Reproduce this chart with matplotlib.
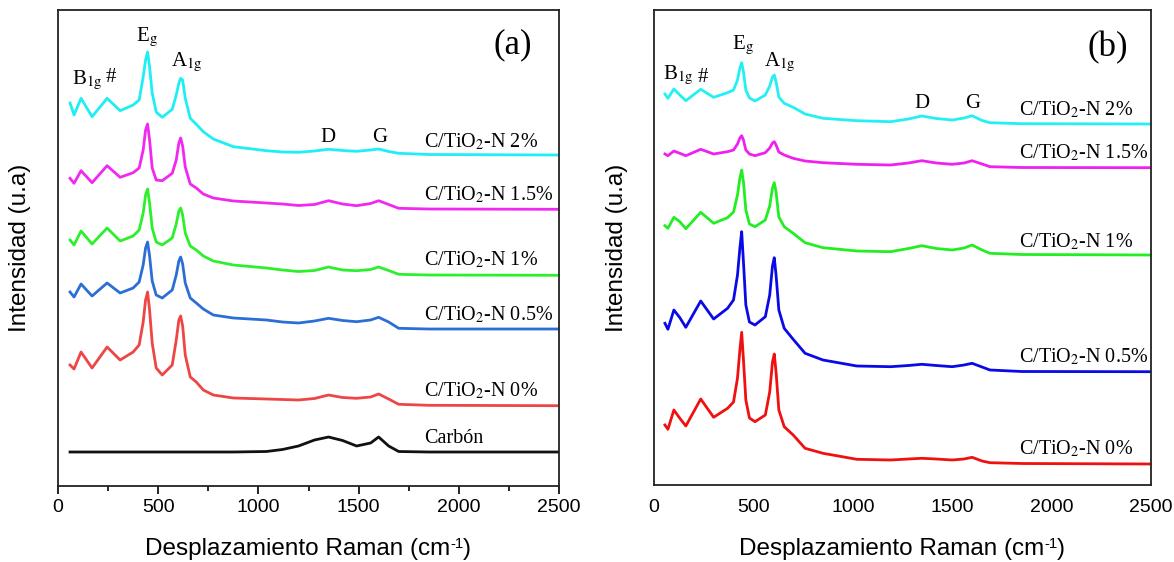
import matplotlib
matplotlib.use("Agg")
import matplotlib.pyplot as plt
from matplotlib.ticker import MultipleLocator

plt.rcParams['mathtext.fontset'] = 'stix'

# ---------------- Panel (a) data ----------------
xa = [60, 80, 115, 170, 245, 310, 375, 405, 425, 437, 447, 457, 470, 490, 520, 570, 590, 603,
      612, 622, 635, 660, 690, 725, 775, 875, 1040, 1120, 1200, 1280, 1350, 1420, 1490, 1560, 1600,
      1650, 1700, 1850, 2500]
a_n2 = [383, 371, 387.7, 369.3, 387.7, 375.3, 381, 386, 409, 426, 434, 419, 393, 374, 368.7, 376.7,
        391, 402.7, 407.7, 406, 387.7, 367.7, 361.7, 354.3, 347, 339.3, 335.3, 334, 333.7, 335, 336.7,
        335.5, 334.7, 336, 337, 334.5, 332.7, 331.5, 331]
a_n15 = [307.7, 302.7, 315.3, 303.3, 320.3, 308.7, 313.3, 318, 336, 356, 362, 346, 318, 306, 305.3,
         312.7, 326, 343, 348, 340, 319, 302, 298, 292, 288, 285, 283, 282, 280.5, 281.5, 285.3, 282,
         280.3, 282.5, 285.3, 281.5, 277.7, 277, 276.7]
a_n1 = [246, 241, 255, 242, 258, 245, 250, 256, 273, 291, 297, 283, 258, 244, 241, 248, 262, 275,
        278, 271, 253, 240, 236, 230, 225, 221, 218, 216, 214.5, 215.5, 219, 216, 215.3, 216.5, 219,
        215.5, 211.7, 211, 210.7]
a_n05 = [194, 189, 202, 190, 203, 193, 198, 204, 221, 238, 244, 230, 205, 191, 188, 196, 211, 225,
         229, 222, 203, 188, 183, 177, 171, 168, 166, 164, 163, 165, 167.7, 165.5, 164.3, 166, 168.7,
         164, 157.7, 157, 157]
a_n0 = [121, 117, 134, 118, 139, 126, 134, 141, 164, 186, 194, 176, 143, 118, 111, 121, 146, 166,
        170, 160, 131, 109, 104, 96, 91, 88, 87, 86.5, 86, 87.5, 91, 88.5, 87.7, 89, 92, 87, 81.7,
        80.7, 80.3]
a_carbon = [34, 34, 34, 34, 34, 34, 34, 34, 34, 34, 34, 34, 34, 34, 34, 34, 34, 34, 34, 34, 34, 34,
            34, 34, 34, 34, 34.5, 36.5, 40, 46, 49, 45.5, 40, 43, 49, 40, 34.5, 34, 34]

# ---------------- Panel (b) data ----------------
xb = [55, 70, 100, 130, 160, 235, 300, 370, 400, 420, 432, 441, 450, 462, 480, 508, 560, 582, 596,
      605, 614, 628, 655, 700, 760, 850, 1020, 1190, 1280, 1347, 1420, 1500, 1560, 1600, 1650,
      1690, 1850, 2500]
b_n2 = [391, 386.7, 396, 390, 384.3, 395.7, 387.7, 392.3, 395, 405, 417, 422.3, 413, 395, 387, 384,
        390, 399, 408, 410, 403, 388, 381.7, 377.7, 371, 366.7, 364.3, 363.3, 366, 369, 366.5, 365,
        367, 369.3, 364.5, 362.3, 361.3, 361]
b_n15 = [331, 329.3, 334, 331.7, 329.3, 335.7, 331, 333.3, 335, 341, 347, 349.3, 345, 335, 331,
         329.3, 332.3, 337, 342, 343.3, 340, 333, 330, 326.7, 324, 322.3, 320.7, 320, 322, 324.3,
         322, 320.7, 322, 324.3, 321, 318.3, 317.5, 317.3]
b_n1 = [259.3, 256.7, 267.7, 263.3, 256.3, 272.7, 261.7, 267.3, 273, 290, 307, 315, 303, 275, 261,
        258.3, 265, 279, 297, 302.3, 293, 268, 258.3, 251.7, 242.3, 237.3, 234, 233.3, 236.5, 239.3,
        236.5, 235, 237, 240, 235, 231.7, 230.5, 230]
b_n05 = [161.7, 155.7, 175, 167.3, 157.7, 184, 166, 176.7, 185, 210, 237, 253.3, 223, 180, 163, 160,
         168.3, 190, 219, 227.3, 210, 175, 156.7, 145.7, 131.7, 125, 119, 118.3, 119.5, 120.7, 119.5,
         118.3, 120, 121.7, 118, 115, 113.5, 113.3]
b_n0 = [60, 55.7, 75, 66.7, 59, 86, 67.7, 76.7, 83, 107, 135, 152.7, 125, 85, 67, 63.3, 70, 93, 123,
        131, 113, 75, 58.3, 50, 36.7, 31.7, 25.7, 25, 26, 26.7, 26, 25, 26, 27.7, 24, 22.3, 21.5, 21]

labels_a = ["C/TiO$_2$-N 2%", "C/TiO$_2$-N 1.5%", "C/TiO$_2$-N 1%", "C/TiO$_2$-N 0.5%",
            "C/TiO$_2$-N 0%", "Carbón"]
labels_b = ["C/TiO$_2$-N 2%", "C/TiO$_2$-N 1.5%", "C/TiO$_2$-N 1%", "C/TiO$_2$-N 0.5%",
            "C/TiO$_2$-N 0%"]
xticks = [0, 500, 1000, 1500, 2000, 2500]

colors_a = ['#1EEFF5', '#F028F0', '#2CF02C', '#2B6FD6', '#EE4545', '#111111']
colors_b = ['#22F0F5', '#F020F0', '#22EE22', '#0A0AE6', '#F01010']

W, H = 1174, 562
fig = plt.figure(figsize=(W / 100, H / 100), dpi=100)

serif = 'Liberation Serif'
sans = 'Liberation Sans'


def px_axes(l, t, r, b):
    return fig.add_axes([l / W, 1 - b / H, (r - l) / W, (b - t) / H])


axa = px_axes(58, 10, 559, 486)
axb = px_axes(654, 10, 1151, 485)

for ys, c in zip([a_n2, a_n15, a_n1, a_n05, a_n0, a_carbon], colors_a):
    axa.plot(xa, ys, color=c, lw=2.0, solid_joinstyle='round')
for ys, c in zip([b_n2, b_n15, b_n1, b_n05, b_n0], colors_b):
    axb.plot(xb, ys, color=c, lw=2.0, solid_joinstyle='round')

axa.set_xlim(0, 2500)
axa.set_ylim(0, 476)
axb.set_xlim(0, 2500)
axb.set_ylim(0, 475)

for ax in (axa, axb):
    ax.set_xticks(xticks)
    ax.set_xticklabels([str(v) for v in xticks], fontfamily=sans, fontsize=14)
    ax.set_yticks([])
    for s in ax.spines.values():
        s.set_linewidth(1.3)
        s.set_color('#222222')

axa.xaxis.set_minor_locator(MultipleLocator(250))
axa.tick_params(axis='x', which='major', direction='out', length=6, width=1.2, pad=3, top=False)
axa.tick_params(axis='x', which='minor', direction='out', length=3.5, width=1.2, top=False)
axb.tick_params(axis='x', which='major', length=0, pad=10)

# axis labels (x label built from pieces so the superscript keeps a plain hyphen)
renderer = fig.canvas.get_renderer()


def xlabel_at(cx, cy):
    fs = 17.5
    parts = [("Desplazamiento Raman (cm", fs, 0), ("-1", fs * 0.62, 7.5), (")", fs, 0)]
    objs = []
    widths = []
    for t, s, dy in parts:
        o = fig.text(0, 0, t, fontfamily=sans, fontsize=s, ha='left', va='baseline')
        objs.append(o)
        widths.append(o.get_window_extent(renderer).width)
    total = sum(widths)
    x0 = cx - total / 2
    base = H - cy - 6
    for (t, s, dy), o, w in zip(parts, objs, widths):
        o.set_position((x0 / W, (base + dy) / H))
        x0 += w


xlabel_at(308, 549)
xlabel_at(902, 549)
fig.text(20 / W, 1 - 248 / H, "Intensidad (u.a)", fontfamily=sans, fontsize=17.5,
         rotation=90, ha='center', va='center')
fig.text(617 / W, 1 - 248 / H, "Intensidad (u.a)", fontfamily=sans, fontsize=17.5,
         rotation=90, ha='center', va='center')

# sample labels
ya_lab = [344.3, 291, 226, 171, 95.3, 47.7]
for t, yv in zip(labels_a, ya_lab):
    axa.text(1826, yv, t, fontfamily=serif, fontsize=14.5, ha='left', va='center')
yb_lab = [375, 331.7, 243.3, 128.3, 35.7]
for t, yv in zip(labels_b, yb_lab):
    axb.text(1837, yv, t, fontfamily=serif, fontsize=14.5, ha='left', va='center')

# peak labels
pk = dict(fontfamily=serif, fontsize=15, ha='center', va='center')
axa.text(444, 449, "E$_\\mathrm{g}$", **pk)
axa.text(644, 424, "A$_\\mathrm{1g}$", **pk)
axa.text(145, 406, "B$_\\mathrm{1g}$", **pk)
axa.text(262, 408, "#", **pk)
axa.text(1347, 349, "D", **pk)
axa.text(1607, 349, "G", **pk)
axa.text(2270, 441, "(a)", fontfamily=serif, fontsize=25, ha='center', va='center')

axb.text(449, 440, "E$_\\mathrm{g}$", **pk)
axb.text(634, 423, "A$_\\mathrm{1g}$", **pk)
axb.text(121, 410, "B$_\\mathrm{1g}$", **pk)
axb.text(247, 408, "#", **pk)
axb.text(1347, 382, "D", **pk)
axb.text(1605, 382, "G", **pk)
axb.text(2284, 437, "(b)", fontfamily=serif, fontsize=25, ha='center', va='center')

fig.savefig("out.png", dpi=100)
